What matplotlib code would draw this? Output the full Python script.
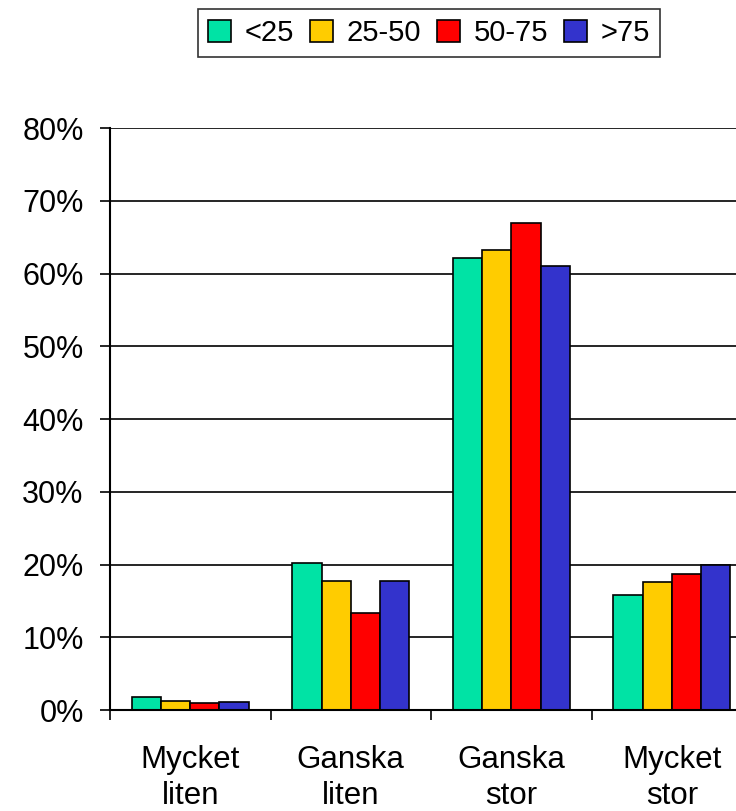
import numpy as np
import matplotlib
matplotlib.use("Agg")
import matplotlib.pyplot as plt
from matplotlib.ticker import FuncFormatter, FixedLocator

plt.rcParams['font.family'] = ['Liberation Sans', 'DejaVu Sans']

# Data (percent)
categories = ["Mycket\nliten", "Ganska\nliten", "Ganska\nstor", "Mycket\nstor"]
series_names = ["<25", "25-50", "50-75", ">75"]
values = {
    "<25":   [1.8, 20.2, 62.1, 15.8],
    "25-50": [1.3, 17.8, 63.2, 17.6],
    "50-75": [1.0, 13.4, 66.9, 18.7],
    ">75":   [1.1, 17.8, 61.1, 20.0],
}
colors = ["#00E3A5", "#FFCC00", "#FF0000", "#3333CC"]
y_ticks = [0, 10, 20, 30, 40, 50, 60, 70, 80]

fig = plt.figure(figsize=(7.36, 8.11), dpi=100)
ax = fig.add_axes([0.1495, 0.1245, 0.8723, 0.7176])

x = np.arange(len(categories))
bar_w = 0.182
offsets = (np.arange(len(series_names)) - 1.5) * bar_w

handles = []
for i, name in enumerate(series_names):
    b = ax.bar(x + offsets[i], values[name], width=bar_w, color=colors[i],
               edgecolor="black", linewidth=1.2, zorder=3, label=name)
    handles.append(b)

ax.set_xlim(-0.5, len(categories) - 0.5)
ax.set_ylim(0, 80)

# gridlines
for t in y_ticks[1:]:
    ax.axhline(t, color="black", linewidth=1.2, zorder=1)

ax.set_yticks(y_ticks)
ax.yaxis.set_major_formatter(FuncFormatter(lambda v, p: f"{int(v)}%"))
ax.tick_params(axis="y", direction="out", length=7, width=1.2, labelsize=22, pad=12)

# category labels centred, ticks at the group boundaries
ax.set_xticks(x)
ax.set_xticklabels(categories, fontsize=22.5, linespacing=1.25)
ax.tick_params(axis="x", which="major", length=0, pad=25)
ax.xaxis.set_minor_locator(FixedLocator(np.arange(len(categories) + 1) - 0.5))
ax.tick_params(axis="x", which="minor", direction="out", length=7, width=1.2)

for s in ["top", "right"]:
    ax.spines[s].set_visible(False)
for s in ["left", "bottom"]:
    ax.spines[s].set_linewidth(1.5)
    ax.spines[s].set_zorder(4)

leg = fig.legend(handles=handles, labels=series_names, loc="center",
                 bbox_to_anchor=(429 / 736, 1 - 33 / 811), ncol=4,
                 fontsize=21, frameon=True, fancybox=False,
                 handlelength=0.8, handleheight=0.8, handletextpad=0.45,
                 columnspacing=0.55, borderpad=0.35, borderaxespad=0)
leg.get_frame().set_edgecolor("black")
leg.get_frame().set_linewidth(1.2)

fig.savefig("out.png", dpi=100)
